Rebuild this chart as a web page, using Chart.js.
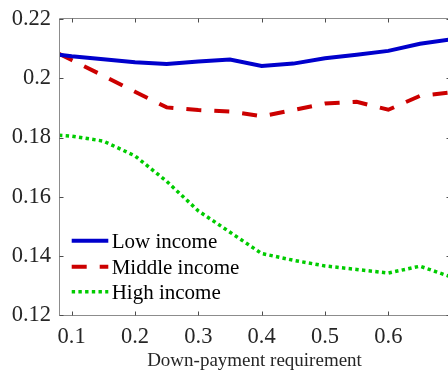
<!DOCTYPE html>
<html>
<head>
<meta charset="utf-8">
<script src="https://cdn.jsdelivr.net/npm/chart.js@4/dist/chart.umd.min.js"></script>
<style>
  html, body { margin: 0; padding: 0; background: #fff; overflow: hidden; width: 448px; height: 372px; }
  #wrap { width: 452px; height: 372px; }
  canvas { display: block; }
</style>
</head>
<body>
<div id="wrap"><canvas id="chart" width="452" height="372"></canvas></div>
<script>
// Down-payment requirement (share of house price)
const downPayment = [0.08, 0.10, 0.15, 0.20, 0.25, 0.30, 0.35, 0.40, 0.45, 0.50, 0.55, 0.60, 0.65, 0.70];

// Outcome by income group
const lowIncome    = [0.2080, 0.2075, 0.2065, 0.2055, 0.2049, 0.2057, 0.2064, 0.2042, 0.2050, 0.2068, 0.2080, 0.2093, 0.2117, 0.2132];
const middleIncome = [0.2083, 0.2062, 0.2009, 0.1955, 0.1902, 0.1893, 0.1888, 0.1872, 0.1893, 0.1915, 0.1921, 0.1894, 0.1941, 0.1953];
const highIncome   = [0.1808, 0.1805, 0.1788, 0.1738, 0.1652, 0.1552, 0.1480, 0.1408, 0.1385, 0.1366, 0.1354, 0.1342, 0.1365, 0.1328];

const seriesNames = ['Low income', 'Middle income', 'High income'];

// Axis ticks
const xTickValues = [0.1, 0.2, 0.3, 0.4, 0.5, 0.6];
const xTickLabels = ['0.1', '0.2', '0.3', '0.4', '0.5', '0.6'];
const yTickValues = [0.12, 0.14, 0.16, 0.18, 0.2, 0.22];
const yTickLabels = ['0.12', '0.14', '0.16', '0.18', '0.2', '0.22'];

const SERIF = '"Liberation Serif", "Times New Roman", serif';
const TEXT = '#262626';

function pairs(xs, ys) { return xs.map((x, i) => ({ x: x, y: ys[i] })); }
function labelFor(values, labels, v) {
  const i = values.findIndex(t => Math.abs(t - v) < 1e-9);
  return i >= 0 ? labels[i] : '';
}

// Box around the plot with inward tick marks on all four sides
const axisBox = {
  id: 'axisBox',
  afterDatasetsDraw(chart) {
    const { ctx, chartArea: a, scales } = chart;
    const L = Math.round(a.left) + 0.5, R = Math.round(a.right) + 0.5;
    const T = Math.round(a.top) - 0.5, B = Math.round(a.bottom) + 0.5;
    const len = 4;
    ctx.save();
    ctx.lineWidth = 1;
    ctx.strokeStyle = '#8c8c8c';
    ctx.beginPath();
    ctx.rect(L, T, R - L, B - T);
    ctx.stroke();
    ctx.strokeStyle = '#4d4d4d';
    ctx.beginPath();
    xTickValues.forEach(v => {
      const px = Math.round(scales.x.getPixelForValue(v)) + 0.5;
      ctx.moveTo(px, B); ctx.lineTo(px, B - len);
      ctx.moveTo(px, T); ctx.lineTo(px, T + len);
    });
    yTickValues.forEach(v => {
      const py = Math.round(scales.y.getPixelForValue(v)) + 0.5;
      ctx.moveTo(L, py); ctx.lineTo(L + len, py);
      ctx.moveTo(R, py); ctx.lineTo(R - len, py);
    });
    ctx.stroke();
    ctx.restore();
  }
};

// Legend drawn inside the lower-left of the plot
const insideLegend = {
  id: 'insideLegend',
  afterDatasetsDraw(chart) {
    const { ctx, chartArea: a } = chart;
    const x0 = a.left + 12.7, x1 = a.left + 49.3, tx = a.left + 52.7;
    const rows = [240.7, 266.7, 291.7];
    ctx.save();
    chart.data.datasets.forEach((ds, i) => {
      const y = rows[i];
      ctx.strokeStyle = ds.borderColor;
      ctx.lineWidth = ds.borderWidth;
      ctx.setLineDash(ds.borderDash || []);
      ctx.lineCap = 'butt';
      ctx.beginPath();
      ctx.moveTo(x0, y); ctx.lineTo(x1, y);
      ctx.stroke();
      ctx.setLineDash([]);
      ctx.fillStyle = '#000';
      ctx.font = '21px ' + SERIF;
      ctx.textBaseline = 'middle';
      ctx.textAlign = 'left';
      ctx.fillText(ds.label, tx, y + 1.5);
    });
    ctx.restore();
  }
};

new Chart(document.getElementById('chart'), {
  type: 'line',
  data: {
    datasets: [
      { label: seriesNames[0], data: pairs(downPayment, lowIncome),
        borderColor: '#0000cc', borderWidth: 4, borderDash: [] },
      { label: seriesNames[1], data: pairs(downPayment, middleIncome),
        borderColor: '#cc0000', borderWidth: 4, borderDash: [15, 13] },
      { label: seriesNames[2], data: pairs(downPayment, highIncome),
        borderColor: '#00cc00', borderWidth: 3.5, borderDash: [3.4, 3.3] }
    ]
  },
  options: {
    responsive: false,
    animation: false,
    devicePixelRatio: 1,
    layout: { padding: { top: 16, right: 2, left: 0, bottom: 0 } },
    elements: { point: { radius: 0 }, line: { tension: 0, fill: false } },
    plugins: { legend: { display: false }, tooltip: { enabled: false } },
    scales: {
      x: {
        type: 'linear',
        min: 0.08,
        max: 0.6974,
        afterBuildTicks: s => { s.ticks = xTickValues.map(v => ({ value: v })); },
        afterFit: s => { s.height = 57; },
        grid: { display: false, drawTicks: false },
        border: { display: false },
        ticks: {
          autoSkip: false, maxRotation: 0, padding: 11, color: TEXT,
          font: { family: SERIF, size: 22.5, lineHeight: 1 },
          callback: v => labelFor(xTickValues, xTickLabels, v)
        },
        title: {
          display: true, text: 'Down-payment requirement', color: TEXT,
          font: { family: SERIF, size: 19 }, padding: { top: 0, bottom: 0 }
        }
      },
      y: {
        type: 'linear',
        min: 0.12,
        max: 0.22,
        afterBuildTicks: s => { s.ticks = yTickValues.map(v => ({ value: v })); },
        afterFit: s => { s.width = 59; },
        grid: { display: false, drawTicks: false },
        border: { display: false },
        ticks: {
          autoSkip: false, padding: 8, color: TEXT,
          font: { family: SERIF, size: 22.5, lineHeight: 1 },
          callback: v => labelFor(yTickValues, yTickLabels, v)
        }
      }
    }
  },
  plugins: [axisBox, insideLegend]
});
</script>
</body>
</html>
